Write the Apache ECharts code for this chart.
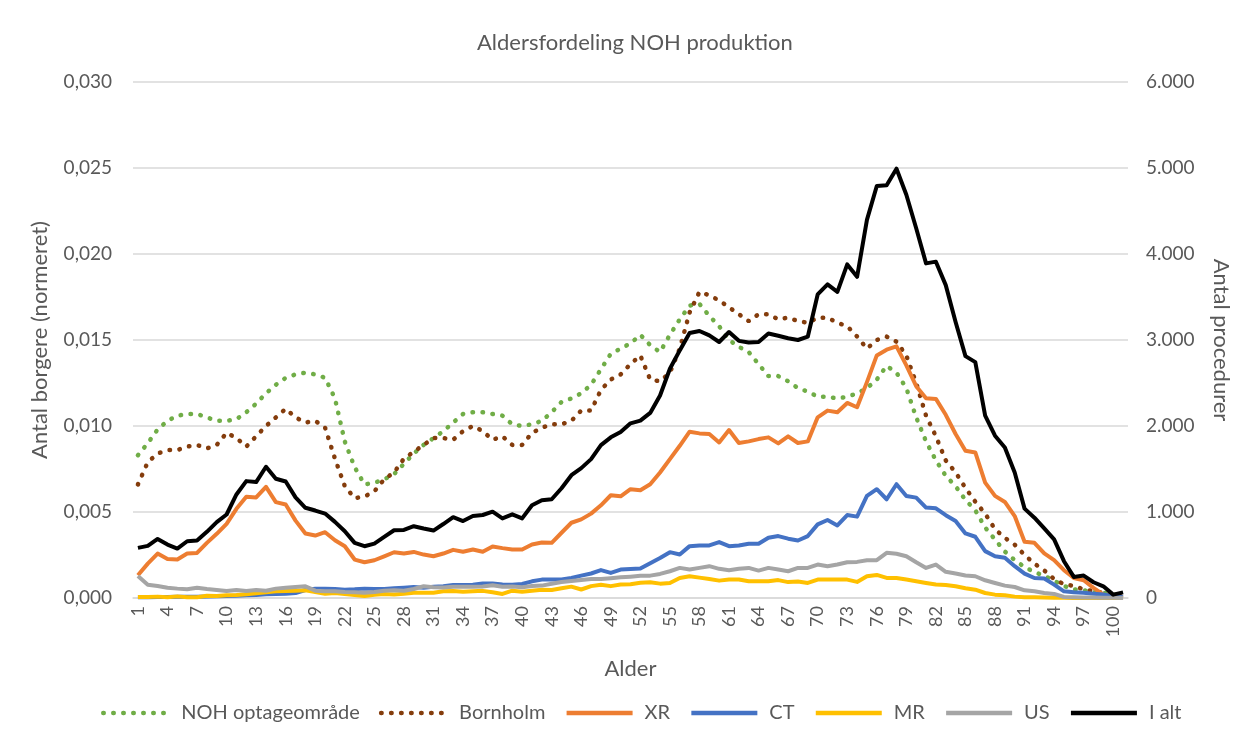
<!DOCTYPE html>
<html>
<head>
<meta charset="utf-8">
<title>Aldersfordeling NOH produktion</title>
<script src="https://cdn.jsdelivr.net/npm/echarts@6/dist/echarts.min.js"></script>
<style>
  html,body{margin:0;padding:0;width:100%;height:100%;background:#fff}
  #chart{width:1240px;height:749px}
</style>
</head>
<body>
<div id="chart"></div>
<script>
// alder 1..101
var ages = [];
for (var a = 1; a <= 101; a++) ages.push(String(a));

// normerede kurver (venstre akse)
var noh = [0.0083,0.0090,0.0098,0.0103,0.0106,0.0107,0.0107,0.0105,0.0103,0.0103,
  0.0104,0.0108,0.0113,0.0119,0.0124,0.0128,0.0130,0.0131,0.0130,0.0128,
  0.0116,0.0091,0.0076,0.0066,0.0067,0.0069,0.0072,0.0078,0.0084,0.0089,
  0.0093,0.0097,0.0102,0.0107,0.0108,0.0108,0.0107,0.0106,0.0101,0.0100,
  0.0101,0.0103,0.0108,0.0114,0.0116,0.0119,0.0124,0.0133,0.0142,0.0145,
  0.0148,0.0153,0.0147,0.0143,0.0153,0.0162,0.0170,0.0171,0.0164,0.0158,
  0.0150,0.0146,0.0143,0.0136,0.0129,0.0129,0.0126,0.0122,0.0120,0.0117,
  0.0117,0.0116,0.0117,0.0119,0.0122,0.0127,0.0135,0.0131,0.0122,0.0105,
  0.0091,0.0080,0.0071,0.0065,0.0057,0.0051,0.0041,0.0034,0.0027,0.0022,
  0.0018,0.0015,0.0013,0.0010,0.0007,0.0005,0.00045,0.00035,0.0003,0.0002,0.0001];
var bornholm = [0.0066,0.0079,0.0084,0.0086,0.0086,0.0088,0.0089,0.0087,0.0089,0.0096,
  0.0093,0.0088,0.0094,0.0100,0.0105,0.0110,0.0105,0.0102,0.0103,0.0099,
  0.0081,0.0065,0.0058,0.0059,0.0062,0.0069,0.0073,0.0081,0.0085,0.0089,
  0.0093,0.0093,0.0092,0.0097,0.0100,0.0097,0.0092,0.0094,0.0089,0.0089,
  0.0096,0.0099,0.0101,0.0101,0.0103,0.0109,0.0109,0.0121,0.0127,0.0130,
  0.0136,0.0141,0.0127,0.0126,0.0131,0.0145,0.0166,0.0178,0.0176,0.0173,
  0.0169,0.0165,0.0161,0.0165,0.0165,0.0162,0.0163,0.0161,0.0160,0.0163,
  0.0163,0.0160,0.0158,0.0152,0.0145,0.0150,0.0152,0.0149,0.0141,0.0125,
  0.0106,0.0094,0.0080,0.0073,0.0064,0.0056,0.0049,0.0040,0.0035,0.0031,
  0.0025,0.0020,0.0016,0.0011,0.0008,0.0007,0.0005,0.0004,0.0003,0.0002,0.0001];

// antal procedurer (hoejre akse)
var xr = [265,400,517,454,447,517,524,641,746,862,
  1037,1177,1169,1293,1115,1087,900,750,726,765,
  672,602,447,416,439,485,532,517,536,505,
  485,517,560,537,564,537,599,580,564,564,
  623,646,642,759,875,914,981,1078,1195,1183,
  1265,1253,1323,1459,1615,1770,1934,1914,1907,1809,
  1953,1802,1821,1848,1868,1798,1880,1802,1821,2101,
  2179,2160,2268,2218,2510,2821,2887,2926,2704,2463,
  2323,2315,2130,1907,1712,1693,1342,1187,1117,953,
  654,642,518,440,323,233,206,117,39,10,5];
var ct = [10,10,12,12,15,15,15,18,20,23,
  27,31,35,43,47,50,58,93,109,109,
  105,97,101,109,105,105,112,120,128,120,
  132,136,150,152,155,170,170,157,155,163,
  194,214,215,215,233,260,285,325,292,330,
  338,342,405,465,533,506,603,611,611,650,
  603,611,630,630,700,720,690,669,720,856,
  907,844,965,946,1187,1265,1148,1323,1187,1167,
  1051,1043,963,895,751,712,545,486,467,370,
  284,233,226,156,78,66,60,50,40,20,10];
var mr = [12,12,16,8,19,8,8,27,23,31,
  35,43,54,66,78,81,85,89,70,50,
  58,47,35,23,39,47,40,50,60,60,
  62,78,82,72,78,83,66,47,85,74,
  85,95,92,113,132,99,138,153,138,158,
  161,177,182,167,175,233,253,237,222,202,
  214,214,195,195,195,208,185,191,175,214,
  214,214,214,187,253,268,233,233,214,195,
  175,156,150,136,113,97,58,39,31,16,
  10,8,5,3,2,1,1,1,1,0,0];
var us = [256,155,140,120,109,101,120,105,93,81,
  93,81,93,85,109,120,128,136,85,78,
  78,70,66,62,70,85,90,85,105,136,
  125,122,130,130,130,135,148,130,135,124,
  140,144,165,186,198,210,220,220,229,240,
  248,258,260,280,311,350,331,350,370,339,
  323,339,350,319,350,331,311,350,350,389,
  370,389,416,420,440,440,525,514,486,416,
  350,389,305,284,261,253,206,175,144,128,
  89,78,58,47,12,8,5,5,3,2,1];
var ialt = [583,606,687,621,575,660,668,769,882,971,
  1204,1359,1348,1526,1386,1355,1170,1049,1017,982,
  885,777,641,602,633,711,788,792,835,808,
  784,860,940,895,953,965,1004,926,973,926,
  1078,1136,1148,1276,1428,1510,1615,1778,1868,1930,
  2031,2062,2152,2354,2665,2879,3082,3105,3054,2977,
  3093,2990,2970,2977,3076,3050,3020,3000,3040,3530,
  3646,3560,3879,3735,4397,4790,4800,4992,4689,4300,
  3891,3911,3638,3210,2813,2743,2121,1887,1751,1459,
  1039,934,809,681,428,245,261,183,136,39,66];

var FONT = 'Lato, "Open Sans", sans-serif';
var TXT = '#595959';

function dk(v, dec) {
  // dansk talformat
  var s = v.toFixed(dec);
  if (dec > 0) return s.replace('.', ',');
  return s.replace(/\B(?=(\d{3})+(?!\d))/g, '.');
}

function dotted(name, data, color) {
  return {
    name: name, type: 'line', yAxisIndex: 0, data: data,
    symbol: 'none', smooth: false,
    lineStyle: {color: color, width: 4.5, type: [0.5, 9.5], cap: 'round'},
    itemStyle: {color: color}
  };
}
function solid(name, data, color) {
  return {
    name: name, type: 'line', yAxisIndex: 1, data: data,
    symbol: 'none', smooth: false,
    lineStyle: {color: color, width: 4, join: 'round'},
    itemStyle: {color: color}
  };
}

var chart = echarts.init(document.getElementById('chart'));
chart.setOption({
  animation: false,
  backgroundColor: '#fff',
  textStyle: {fontFamily: FONT, color: TXT},
  title: {
    text: 'Aldersfordeling NOH produktion',
    left: 472, top: 27,
    textStyle: {fontFamily: FONT, fontSize: 22, fontWeight: 'normal', color: TXT}
  },
  legend: {
    bottom: 21, left: 96,
    itemWidth: 66, itemHeight: 12, itemGap: 19,
    itemStyle: {opacity: 0},
    lineStyle: {width: 4.5},
    textStyle: {fontFamily: FONT, fontSize: 20, color: TXT, padding: [0, 0, 0, 7]},
    data: ['NOH optageområde', 'Bornholm', 'XR', 'CT', 'MR', 'US', 'I alt']
  },
  grid: {left: 133, right: 103, top: 82, bottom: 151, containLabel: false},
  xAxis: {
    type: 'category', data: ages, boundaryGap: true,
    name: 'Alder', nameLocation: 'middle', nameGap: 60,
    nameTextStyle: {fontFamily: FONT, fontSize: 22, color: TXT},
    axisLine: {lineStyle: {color: '#d9d9d9', width: 1.5}},
    axisTick: {show: false},
    axisLabel: {interval: 2, rotate: 90, fontFamily: FONT, fontSize: 18, color: TXT, margin: 8}
  },
  yAxis: [
    {
      type: 'value', min: 0, max: 0.03, interval: 0.005, position: 'left',
      name: 'Antal borgere (normeret)', nameLocation: 'middle', nameGap: 82, nameRotate: 90,
      nameTextStyle: {fontFamily: FONT, fontSize: 22, color: TXT},
      axisLine: {show: false}, axisTick: {show: false},
      splitLine: {lineStyle: {color: '#d9d9d9', width: 1.5}},
      axisLabel: {fontFamily: FONT, fontSize: 19, color: TXT, margin: 21,
        formatter: function (v) { return dk(v, 3); }}
    },
    {
      type: 'value', min: 0, max: 6000, interval: 1000, position: 'right',
      name: 'Antal procedurer', nameLocation: 'middle', nameGap: 82, nameRotate: -90,
      nameTextStyle: {fontFamily: FONT, fontSize: 22, color: TXT},
      axisLine: {show: false}, axisTick: {show: false},
      splitLine: {show: false},
      axisLabel: {fontFamily: FONT, fontSize: 19, color: TXT, margin: 18,
        formatter: function (v) { return dk(v, 0); }}
    }
  ],
  series: [
    dotted('NOH optageområde', noh, '#70AD47'),
    dotted('Bornholm', bornholm, '#843C0C'),
    solid('XR', xr, '#ED7D31'),
    solid('CT', ct, '#4472C4'),
    solid('MR', mr, '#FFC000'),
    solid('US', us, '#A5A5A5'),
    solid('I alt', ialt, '#000000')
  ]
});
</script>
</body>
</html>
